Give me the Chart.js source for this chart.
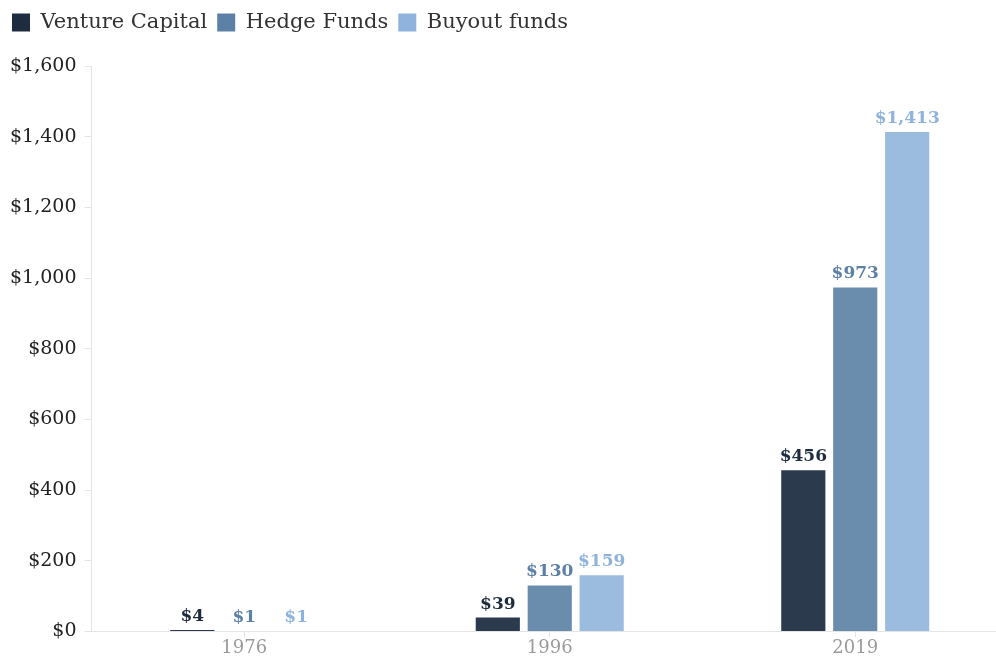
<!DOCTYPE html>
<html>
<head>
<meta charset="utf-8">
<script src="https://cdn.jsdelivr.net/npm/chart.js@4/dist/chart.umd.min.js"></script>
<style>
  html, body { margin: 0; padding: 0; background: #fff; overflow: hidden; }
  #wrap { width: 1008px; height: 659px; }
</style>
</head>
<body>
<div id="wrap"><canvas id="fundChart"></canvas></div>
<script>
const years = ['1976', '1996', '2019'];
const ventureCapital = [4, 39, 456];
const hedgeFunds = [1, 130, 973];
const buyoutFunds = [1, 159, 1413];

const serif = "'DejaVu Serif', 'Liberation Serif', serif";
const barColors = ['#2b3a4d', '#6a8cad', '#9bbbdf'];
const labelColors = ['#1e2c3f', '#5d80a6', '#8fb3dc'];

const money = v => '$' + v.toLocaleString('en-US');

// draws the value over each bar
const valueLabels = {
  id: 'valueLabels',
  afterDatasetsDraw(chart) {
    const ctx = chart.ctx;
    ctx.save();
    ctx.font = 'bold 17px ' + serif;
    ctx.textAlign = 'center';
    ctx.textBaseline = 'bottom';
    chart.data.datasets.forEach((ds, i) => {
      chart.getDatasetMeta(i).data.forEach((bar, j) => {
        ctx.fillStyle = labelColors[i];
        ctx.fillText(money(ds.data[j]), bar.x, bar.y - 5);
      });
    });
    ctx.restore();
  }
};

// more room under the legend
const legendGap = {
  id: 'legendGap',
  beforeInit(chart) {
    const fit = chart.legend.fit;
    chart.legend.fit = function () {
      fit.call(this);
      this.height += 23;
    };
  }
};

const ctx = document.getElementById('fundChart').getContext('2d');
new Chart(ctx, {
  type: 'bar',
  data: {
    labels: years,
    datasets: [
      { label: 'Venture Capital', data: ventureCapital, backgroundColor: barColors[0] },
      { label: 'Hedge Funds', data: hedgeFunds, backgroundColor: barColors[1] },
      { label: 'Buyout funds', data: buyoutFunds, backgroundColor: barColors[2] }
    ]
  },
  options: {
    responsive: true,
    maintainAspectRatio: false,
    animation: false,
    layout: { padding: { left: 2, right: 0, top: 2, bottom: 0 } },
    datasets: { bar: { categoryPercentage: 0.51, barPercentage: 0.85 } },
    plugins: {
      legend: {
        display: true,
        position: 'top',
        align: 'start',
        labels: {
          boxWidth: 18,
          boxHeight: 18,
          padding: 10,
          color: '#333',
          font: { family: serif, size: 21 },
          generateLabels(chart) {
            return chart.data.datasets.map((ds, i) => ({
              text: ds.label,
              fillStyle: labelColors[i],
              strokeStyle: labelColors[i],
              lineWidth: 0,
              fontColor: '#333',
              datasetIndex: i
            }));
          }
        }
      },
      tooltip: { enabled: false }
    },
    scales: {
      x: {
        grid: { display: true, offset: false, drawOnChartArea: false, tickLength: 6, color: '#e4e4e4' },
        border: { color: '#e4e4e4' },
        ticks: { color: '#9a9a9a', font: { family: serif, size: 18 }, padding: 0 }
      },
      y: {
        min: 0,
        max: 1600,
        grid: { display: true, drawOnChartArea: false, tickLength: 7, color: '#e4e4e4' },
        border: { color: '#e4e4e4' },
        ticks: {
          stepSize: 200,
          color: '#222',
          padding: 8,
          font: { family: serif, size: 19 },
          callback: v => money(v)
        }
      }
    }
  },
  plugins: [valueLabels, legendGap]
});
</script>
</body>
</html>
